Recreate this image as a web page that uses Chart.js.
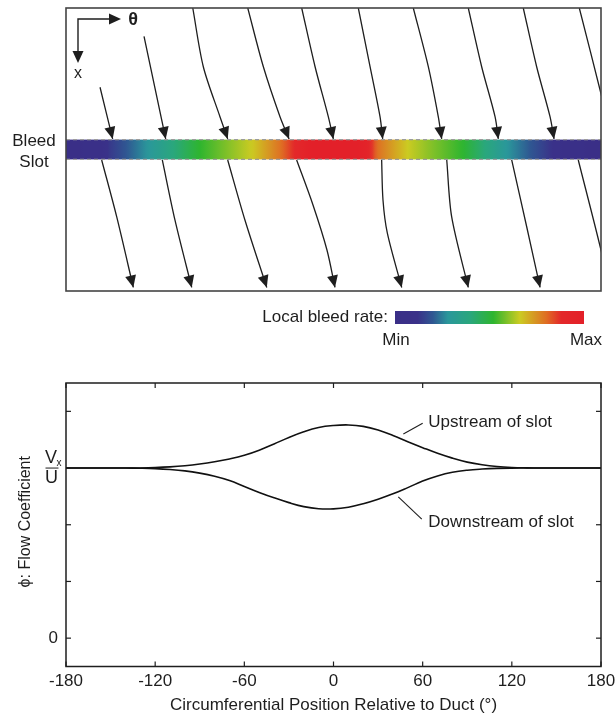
<!DOCTYPE html>
<html>
<head>
<meta charset="utf-8">
<script src="https://cdn.jsdelivr.net/npm/chart.js@4.4.0/dist/chart.umd.min.js"></script>
<style>
  html, body { margin: 0; padding: 0; background: #fff; }
  #wrap { position: relative; width: 615px; height: 719px; }
  .panel { position: absolute; left: 0; width: 615px; }
  #slotPanel { top: 0; height: 360px; }
  #phiPanel { top: 360px; height: 359px; }
</style>
</head>
<body>
<div id="wrap">
  <div class="panel" id="slotPanel"><canvas id="slotChart"></canvas></div>
  <div class="panel" id="phiPanel"><canvas id="phiChart"></canvas></div>
</div>
<script>
const FONT = "'Liberation Sans', Arial, Helvetica, sans-serif";
const INK = '#1e1e1e';

// ---- slot view: streamlines as [theta (deg), axial position] pairs ----
// axial position: -1 = upstream edge of frame, 0 = slot centre, +1 = downstream edge
const inflowLines = [
  [[-157.1, -0.44], [-148.6, -0.075]],
  [[-127.5, -0.80], [-112.9, -0.075]],
  [[-94.7, -1], [-87.6, -0.585], [-76.4, -0.232], [-71.2, -0.075]],
  [[-57.7, -1], [-47.2, -0.585], [-36.0, -0.232], [-29.9, -0.075]],
  [[-21.4, -1], [-12.4, -0.585], [-3.5, -0.232], [-0.1, -0.075]],
  [[16.7, -1], [24.6, -0.585], [31.3, -0.232], [33.1, -0.075]],
  [[53.7, -1], [63.8, -0.585], [70.5, -0.232], [72.8, -0.075]],
  [[90.7, -1], [99.7, -0.585], [108.7, -0.232], [110.9, -0.075]],
  [[127.7, -1], [136.7, -0.585], [145.7, -0.232], [148.4, -0.075]]
];
const outflowLines = [
  [[-156.0, 0.074], [-145.9, 0.475], [-134.7, 0.975]],
  [[-115.2, 0.074], [-106.7, 0.498], [-95.4, 0.975]],
  [[-71.2, 0.074], [-59.6, 0.498], [-44.9, 0.975]],
  [[-24.8, 0.074], [-13.8, 0.392], [-4.4, 0.71], [1.0, 0.975]],
  [[32.4, 0.074], [33.3, 0.357], [36.2, 0.59], [45.9, 0.975]],
  [[76.2, 0.074], [79.5, 0.475], [90.7, 0.975]],
  [[119.9, 0.074], [130.0, 0.546], [139.0, 0.975]]
];
// these two leave through the right-hand edge
const edgeLines = [
  [[165.4, -1], [180.5, -0.373], [184.0, -0.2]],
  [[164.7, 0.074], [180.5, 0.733], [183.4, 0.9]]
];

// local bleed rate along the slot (0 = min, 1 = max)
const bleedTheta = [-180, -160, -150, -125, -90, -55, -35, -22, -15, 15, 22, 29, 50, 65, 87, 117, 140, 160, 180];
const bleedRate  = [0.00, 0.05, 0.14, 0.28, 0.52, 0.66, 0.80, 0.92, 1.00, 1.00, 0.95, 0.80, 0.66, 0.60, 0.52, 0.28, 0.16, 0.05, 0.00];
const slotHalfWidth = 0.07;

// ---- flow coefficient vs circumferential position ----
const positionDeg = [-180, -170, -160, -150, -140, -130, -120, -110, -100, -90, -80, -70, -60, -50, -40, -30, -20, -10,
  0, 10, 20, 30, 40, 50, 60, 70, 80, 90, 100, 110, 120, 130, 140, 150, 160, 170, 180];
const phiUpstream = [3.000, 3.000, 3.000, 3.000, 3.000, 3.002, 3.008, 3.020, 3.040, 3.070, 3.110, 3.160, 3.225, 3.315, 3.425, 3.540, 3.640, 3.715,
  3.750, 3.760, 3.735, 3.670, 3.575, 3.465, 3.360, 3.260, 3.175, 3.105, 3.058, 3.027, 3.010, 3.003, 3.000, 3.000, 3.000, 3.000, 3.000];
const phiDownstream = [3.000, 3.000, 3.000, 3.000, 3.000, 2.997, 2.990, 2.975, 2.950, 2.910, 2.855, 2.780, 2.675, 2.570, 2.475, 2.390, 2.320, 2.282,
  2.280, 2.310, 2.370, 2.450, 2.545, 2.655, 2.770, 2.860, 2.925, 2.962, 2.982, 2.994, 2.999, 3.000, 3.000, 3.000, 3.000, 3.000, 3.000];
const xTickValues = [-180, -120, -60, 0, 60, 120, 180];
const xTickLabels = ['-180', '-120', '-60', '0', '60', '120', '180'];
const yTickValues = [0, 1, 2, 3, 4];
const designPhi = 3;

// colour map used for the slot and its colour bar
const cmapStops  = [0, 0.12, 0.2, 0.28, 0.4, 0.52, 0.66, 0.8, 0.88, 1];
const cmapColors = ['#3a2f87', '#3a3189', '#2f5792', '#2a979b', '#2aa77c', '#2eb52f', '#cbcb22', '#df6e23', '#e3282a', '#e32029'];

function hexRgb(h) {
  const n = parseInt(h.slice(1), 16);
  return [(n >> 16) & 255, (n >> 8) & 255, n & 255];
}
function lerpSeries(xs, ys, x) {
  if (x <= xs[0]) return ys[0];
  for (let i = 1; i < xs.length; i++) {
    if (x <= xs[i]) {
      const f = (x - xs[i - 1]) / (xs[i] - xs[i - 1]);
      return ys[i - 1] + f * (ys[i] - ys[i - 1]);
    }
  }
  return ys[ys.length - 1];
}
function rateColor(r) {
  let i = 1;
  while (i < cmapStops.length - 1 && r > cmapStops[i]) i++;
  const f = Math.max(0, Math.min(1, (r - cmapStops[i - 1]) / (cmapStops[i] - cmapStops[i - 1])));
  const a = hexRgb(cmapColors[i - 1]), b = hexRgb(cmapColors[i]);
  const c = a.map((v, k) => Math.round(v + f * (b[k] - v)));
  return `rgb(${c[0]},${c[1]},${c[2]})`;
}

function arrowHead(ctx, tx, ty, fx, fy, len, half) {
  const dx = tx - fx, dy = ty - fy;
  const d = Math.hypot(dx, dy) || 1;
  const ux = dx / d, uy = dy / d;
  const bx = tx - ux * len, by = ty - uy * len;
  ctx.beginPath();
  ctx.moveTo(tx, ty);
  ctx.lineTo(bx - uy * half, by + ux * half);
  ctx.lineTo(bx + uy * half, by - ux * half);
  ctx.closePath();
  ctx.fill();
}

// coloured slot band with dashed edges
const slotBand = {
  id: 'slotBand',
  beforeDatasetsDraw(chart) {
    const { ctx, chartArea: a, scales: { x, y } } = chart;
    const y0 = y.getPixelForValue(-slotHalfWidth), y1 = y.getPixelForValue(slotHalfWidth);
    const xa = x.getPixelForValue(-180), xb = x.getPixelForValue(180);
    const grad = ctx.createLinearGradient(xa, 0, xb, 0);
    for (let t = -180; t <= 180; t += 2) {
      grad.addColorStop((x.getPixelForValue(t) - xa) / (xb - xa), rateColor(lerpSeries(bleedTheta, bleedRate, t)));
    }
    ctx.save();
    ctx.fillStyle = grad;
    ctx.fillRect(a.left, y0, a.width, y1 - y0);
    ctx.strokeStyle = '#9c9c9c';
    ctx.lineWidth = 1.2;
    ctx.setLineDash([4, 3]);
    [y0, y1].forEach(py => {
      ctx.beginPath(); ctx.moveTo(a.left, py); ctx.lineTo(a.right, py); ctx.stroke();
    });
    ctx.restore();
  }
};

// arrowheads at the end of each streamline
const streamArrows = {
  id: 'streamArrows',
  afterDatasetsDraw(chart) {
    const ctx = chart.ctx;
    ctx.save();
    ctx.fillStyle = INK;
    chart.data.datasets.forEach((ds, i) => {
      if (!ds.arrow) return;
      const pts = chart.getDatasetMeta(i).data;
      const tip = pts[pts.length - 1];
      let fx = tip.cp1x, fy = tip.cp1y;
      if (fx === undefined || Math.hypot(tip.x - fx, tip.y - fy) < 1) {
        fx = pts[pts.length - 2].x; fy = pts[pts.length - 2].y;
      }
      arrowHead(ctx, tip.x, tip.y, fx, fy, 12, 5.5);
    });
    ctx.restore();
  }
};

// frame, slot label, axis key and colour bar
const slotDecor = {
  id: 'slotDecor',
  afterDraw(chart) {
    const { ctx, chartArea: a, scales: { y } } = chart;
    ctx.save();
    ctx.strokeStyle = '#444';
    ctx.lineWidth = 1.6;
    ctx.strokeRect(a.left, a.top, a.width, a.height);

    ctx.fillStyle = INK;
    ctx.font = `17px ${FONT}`;
    ctx.textAlign = 'center';
    ctx.textBaseline = 'middle';
    const yc = y.getPixelForValue(0);
    ctx.fillText('Bleed', 34, yc - 8);
    ctx.fillText('Slot', 34, yc + 13);

    // theta / x direction key
    const cx = a.left + 12, cy = a.top + 11;
    ctx.strokeStyle = INK;
    ctx.lineWidth = 1.4;
    ctx.beginPath();
    ctx.moveTo(cx + 34, cy); ctx.lineTo(cx, cy); ctx.lineTo(cx, cy + 36);
    ctx.stroke();
    arrowHead(ctx, cx + 43, cy, cx, cy, 12, 5.5);
    arrowHead(ctx, cx, cy + 44, cx, cy, 12, 5.5);
    ctx.font = `bold 18px ${FONT}`;
    ctx.fillText('\u03b8', cx + 55, cy + 1);
    ctx.font = `16px ${FONT}`;
    ctx.fillText('x', cx, cy + 55);

    // colour bar
    const bx = 395, bw = 189, by = 311, bh = 13;
    const g = ctx.createLinearGradient(bx, 0, bx + bw, 0);
    for (let r = 0; r <= 1.0001; r += 0.02) g.addColorStop(Math.min(1, r), rateColor(r));
    ctx.fillStyle = g;
    ctx.fillRect(bx, by, bw, bh);
    ctx.fillStyle = INK;
    ctx.font = `17px ${FONT}`;
    ctx.textAlign = 'right';
    ctx.fillText('Local bleed rate:', bx - 7, by + bh / 2);
    ctx.textAlign = 'center';
    ctx.fillText('Min', bx + 1, 340);
    ctx.fillText('Max', bx + bw + 2, 340);
    ctx.restore();
  }
};

function streamSet(pts, arrow) {
  return {
    data: pts.map(p => ({ x: p[0], y: p[1] })),
    borderColor: INK,
    borderWidth: 1.3,
    pointRadius: 0,
    tension: 0.3,
    fill: false,
    arrow: arrow
  };
}

new Chart(document.getElementById('slotChart'), {
  type: 'line',
  data: {
    datasets: [
      ...inflowLines.map(p => streamSet(p, true)),
      ...outflowLines.map(p => streamSet(p, true)),
      ...edgeLines.map(p => streamSet(p, false))
    ]
  },
  options: {
    responsive: true,
    maintainAspectRatio: false,
    animation: false,
    events: [],
    layout: { padding: { left: 66, right: 14, top: 8, bottom: 69 } },
    plugins: { legend: { display: false }, tooltip: { enabled: false } },
    scales: {
      x: { type: 'linear', min: -180, max: 180, display: false },
      y: { type: 'linear', min: -1, max: 1, reverse: true, display: false }
    }
  },
  plugins: [slotBand, streamArrows, slotDecor]
});

// box axes with inward ticks, labels and curve call-outs
const callouts = [
  { from: [47, 3.6], to: [60, 3.79], at: [63.8, 3.81], text: 'Upstream of slot' },
  { from: [43.6, 2.49], to: [59.4, 2.1], at: [63.8, 2.04], text: 'Downstream of slot' }
];
const phiAxes = {
  id: 'phiAxes',
  afterDraw(chart) {
    const { ctx, chartArea: a, scales: { x, y } } = chart;
    ctx.save();
    ctx.strokeStyle = INK;
    ctx.lineWidth = 1.5;
    ctx.strokeRect(a.left, a.top, a.width, a.height);
    ctx.lineWidth = 1.2;
    const seg = (x0, y0, x1, y1) => { ctx.beginPath(); ctx.moveTo(x0, y0); ctx.lineTo(x1, y1); ctx.stroke(); };
    xTickValues.forEach(v => {
      const px = x.getPixelForValue(v);
      seg(px, a.bottom, px, a.bottom - 5);
      seg(px, a.top, px, a.top + 5);
    });
    yTickValues.forEach(v => {
      const py = y.getPixelForValue(v);
      seg(a.left, py, a.left + 5, py);
      seg(a.right, py, a.right - 5, py);
    });

    ctx.fillStyle = INK;
    ctx.font = `17px ${FONT}`;
    ctx.textAlign = 'center';
    ctx.textBaseline = 'middle';
    xTickValues.forEach((v, i) => ctx.fillText(xTickLabels[i], x.getPixelForValue(v), a.bottom + 15));
    ctx.textAlign = 'right';
    ctx.fillText('0', a.left - 8, y.getPixelForValue(0));

    // Vx / U at the design flow coefficient
    const fy = y.getPixelForValue(designPhi);
    ctx.textAlign = 'center';
    ctx.font = `18px ${FONT}`;
    ctx.fillText('V', 51, fy - 10);
    ctx.fillText('U', 51.5, fy + 10);
    ctx.font = `10px ${FONT}`;
    ctx.fillText('x', 59, fy - 5);
    ctx.lineWidth = 1;
    seg(45.5, fy, 58.5, fy);

    ctx.font = `17px ${FONT}`;
    ctx.fillText('Circumferential Position Relative to Duct (\u00b0)', (a.left + a.right) / 2, a.bottom + 39);
    ctx.save();
    ctx.translate(26, (a.top + a.bottom) / 2 - 3);
    ctx.rotate(-Math.PI / 2);
    ctx.font = `16px ${FONT}`;
    ctx.fillText('\u03d5: Flow Coefficient', 0, 0);
    ctx.restore();

    ctx.textAlign = 'left';
    ctx.lineWidth = 1.1;
    callouts.forEach(c => {
      seg(x.getPixelForValue(c.from[0]), y.getPixelForValue(c.from[1]), x.getPixelForValue(c.to[0]), y.getPixelForValue(c.to[1]));
      ctx.fillText(c.text, x.getPixelForValue(c.at[0]), y.getPixelForValue(c.at[1]));
    });
    ctx.restore();
  }
};

const curveStyle = { borderColor: '#111', borderWidth: 1.6, pointRadius: 0, fill: false, tension: 0.4 };

new Chart(document.getElementById('phiChart'), {
  type: 'line',
  data: {
    datasets: [
      { label: 'Upstream of slot', data: positionDeg.map((t, i) => ({ x: t, y: phiUpstream[i] })), ...curveStyle },
      { label: 'Downstream of slot', data: positionDeg.map((t, i) => ({ x: t, y: phiDownstream[i] })), ...curveStyle }
    ]
  },
  options: {
    responsive: true,
    maintainAspectRatio: false,
    animation: false,
    events: [],
    layout: { padding: { left: 66, right: 14, top: 23, bottom: 52.5 } },
    plugins: { legend: { display: false }, tooltip: { enabled: false } },
    scales: {
      x: { type: 'linear', min: -180, max: 180, display: false },
      y: { type: 'linear', min: -0.5, max: 4.5, display: false }
    }
  },
  plugins: [phiAxes]
});
</script>
</body>
</html>
